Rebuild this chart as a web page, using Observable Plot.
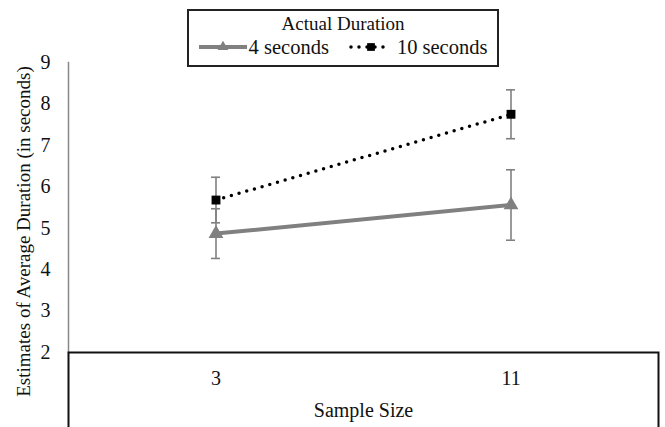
<!DOCTYPE html>
<html>
<head>
<meta charset="utf-8">
<script src="https://cdn.jsdelivr.net/npm/d3@7"></script>
<script src="https://cdn.jsdelivr.net/npm/@observablehq/plot@0.6"></script>
<style>
  html, body { margin: 0; padding: 0; background: #fff; }
  #wrap { position: relative; width: 665px; height: 427px; font-family: "Liberation Serif", serif; }
  #legend {
    position: absolute; left: 187px; top: 9px; width: 312px; height: 58px;
    box-sizing: border-box; border: 2px solid #222; background: #fff;
    color: #111; text-align: center; line-height: 1; white-space: nowrap;
  }
  #legend .title { margin-top: 3px; font-size: 19px; }
  #legend .row { display: flex; justify-content: center; align-items: center; margin-top: 4px; font-size: 20.5px; }
  #legend .item { display: flex; align-items: center; flex-shrink: 0; margin: 0 9px; white-space: nowrap; }
  #legend svg { margin-right: 2px; flex-shrink: 0; }
</style>
</head>
<body>
<div id="wrap"><div id="legend"></div></div>
<script>
// ---- data ----
const sampleSizes = ["3", "11"];
const seriesNames = ["4 seconds", "10 seconds"];
const means4 = [4.87, 5.56];
const err4 = [0.60, 0.85];
const means10 = [5.68, 7.75];
const err10 = [0.55, 0.59];
const yTicks = [2, 3, 4, 5, 6, 7, 8, 9];
const legendTitle = "Actual Duration";
const xTitle = "Sample Size";
const yTitle = "Estimates of Average Duration (in seconds)";

// ---- styles ----
const W = 665, H = 427, ML = 68, MR = 7, MT = 62, MB = 75;
const gray = "#808080";
const colors = [gray, "#000"];
const symbols = ["triangle", "square"];

const rows = [];
sampleSizes.forEach((s, i) => {
  rows.push({size: s, series: seriesNames[0], mean: means4[i], err: err4[i]});
  rows.push({size: s, series: seriesNames[1], mean: means10[i], err: err10[i]});
});
const r4 = rows.filter(d => d.series === seriesNames[0]);
const r10 = rows.filter(d => d.series === seriesNames[1]);
const bw = (W - ML - MR) / sampleSizes.length;
const capInset = (bw - 9) / 2;

const chart = Plot.plot({
  width: W, height: H,
  marginLeft: ML, marginRight: MR, marginTop: MT, marginBottom: MB,
  style: {fontFamily: "Liberation Serif, serif", fontSize: "19px", color: "#111", background: "transparent", overflow: "visible"},
  x: {type: "band", domain: sampleSizes, padding: 0, axis: null},
  y: {domain: [2, 9], axis: null},
  marks: [
    Plot.frame({anchor: "left", stroke: "#888", strokeWidth: 1.5}),
    Plot.frame({stroke: "#111", strokeWidth: 2, insetTop: H - MT - MB, insetBottom: -MB - 3}),
    Plot.axisY({ticks: yTicks, tickFormat: d => String(d), tickSize: 0, tickPadding: 18, label: null, fontSize: 20}),
    Plot.axisX({tickSize: 0, tickPadding: 18, label: xTitle, labelAnchor: "center", labelOffset: 64, fontSize: 20}),
    Plot.text([yTitle], {text: d => d, frameAnchor: "left", textAnchor: "middle", rotate: -90, dx: -45, dy: 24, fontSize: 19}),
    // error bars
    Plot.ruleX(rows, {x: "size", y1: d => d.mean - d.err, y2: d => d.mean + d.err, stroke: gray, strokeWidth: 1.6}),
    Plot.tickY(rows, {x: "size", y: d => d.mean - d.err, stroke: gray, strokeWidth: 1.6, insetLeft: capInset, insetRight: capInset}),
    Plot.tickY(rows, {x: "size", y: d => d.mean + d.err, stroke: gray, strokeWidth: 1.6, insetLeft: capInset, insetRight: capInset}),
    // lines
    Plot.line(r4, {x: "size", y: "mean", stroke: colors[0], strokeWidth: 4}),
    Plot.line(r10, {x: "size", y: "mean", stroke: colors[1], strokeWidth: 3.5, strokeDasharray: "0 8", strokeLinecap: "round"}),
    // markers
    Plot.dot(r4, {x: "size", y: "mean", symbol: symbols[0], r: 5.5, fill: colors[0], stroke: "none"}),
    Plot.dot(r10, {x: "size", y: "mean", symbol: symbols[1], r: 5, fill: colors[1], stroke: "none"})
  ]
});
document.getElementById("wrap").prepend(chart);

// ---- legend ----
const legend = document.getElementById("legend");
const title = document.createElement("div");
title.className = "title";
title.textContent = legendTitle;
legend.appendChild(title);
const row = document.createElement("div");
row.className = "row";
seriesNames.forEach((name, i) => {
  const item = document.createElement("div");
  item.className = "item";
  const ns = "http://www.w3.org/2000/svg";
  const sv = document.createElementNS(ns, "svg");
  sv.setAttribute("width", 48); sv.setAttribute("height", 16);
  const ln = document.createElementNS(ns, "line");
  ln.setAttribute("x1", i === 0 ? 0 : 4); ln.setAttribute("x2", i === 0 ? 48 : 44);
  ln.setAttribute("y1", 8); ln.setAttribute("y2", 8);
  ln.setAttribute("stroke", colors[i]);
  ln.setAttribute("stroke-width", i === 0 ? 4 : 3.5);
  if (i === 1) { ln.setAttribute("stroke-dasharray", "0 8"); ln.setAttribute("stroke-linecap", "round"); }
  sv.appendChild(ln);
  const p = document.createElementNS(ns, "path");
  p.setAttribute("transform", "translate(24,8)");
  p.setAttribute("d", d3.symbol(i === 0 ? d3.symbolTriangle : d3.symbolSquare, i === 0 ? 50 : 60)());
  p.setAttribute("fill", colors[i]);
  sv.appendChild(p);
  item.appendChild(sv);
  const t = document.createElement("span");
  t.textContent = name;
  item.appendChild(t);
  row.appendChild(item);
});
legend.appendChild(row);
</script>
</body>
</html>
